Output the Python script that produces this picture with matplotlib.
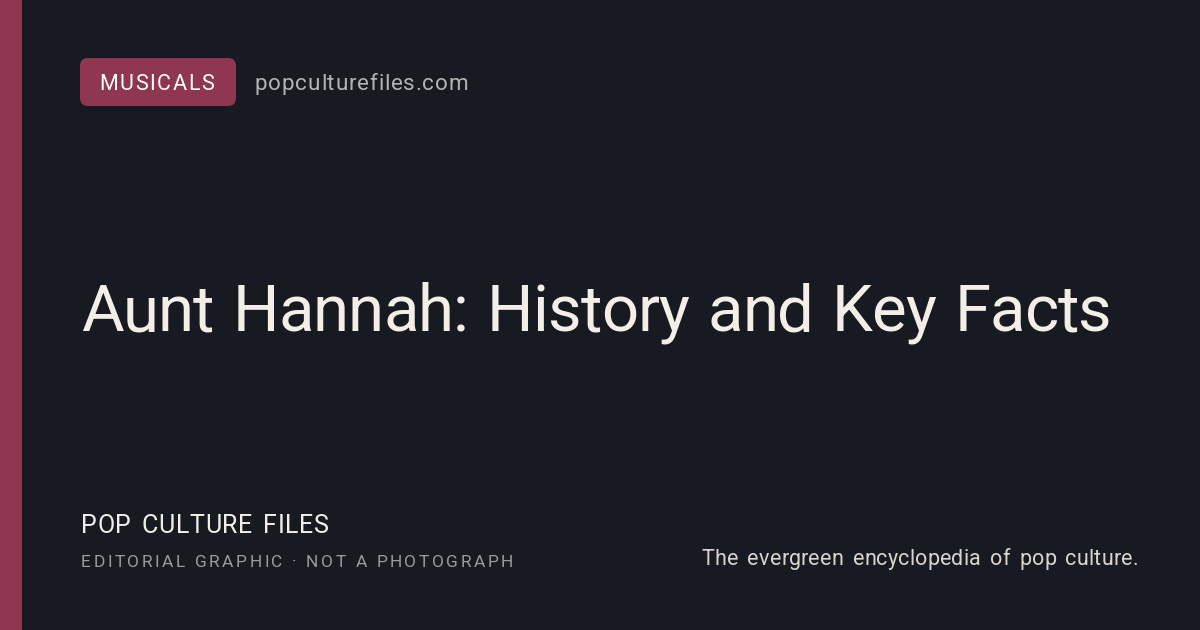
import matplotlib
matplotlib.use("Agg")
import matplotlib.pyplot as plt
from matplotlib.patches import Rectangle, FancyBboxPatch

# card content
category = "MUSICALS"
site = "popculturefiles.com"
title = "Aunt Hannah: History and Key Facts"
brand = "POP CULTURE FILES"
note = "EDITORIAL GRAPHIC \u00b7 NOT A PHOTOGRAPH"
tagline = "The evergreen encyclopedia of pop culture."

bg = "#181a21"
accent = "#8f3650"
cream = "#f3efe8"

plt.rcParams["font.family"] = ["Roboto", "DejaVu Sans"]

fig = plt.figure(figsize=(12, 6.3), dpi=100)
fig.patch.set_facecolor(bg)
ax = fig.add_axes([0, 0, 1, 1])
ax.set_xlim(0, 1200)
ax.set_ylim(630, 0)
ax.axis("off")

fig.canvas.draw()
rend = fig.canvas.get_renderer()


def width_px(t):
    bb = t.get_window_extent(renderer=rend)
    return bb.x1 - bb.x0


def tracked(x0, x1, y, s, size, space_em=0.26, **kw):
    # lay the string out glyph by glyph, spreading spare room so it spans x0..x1
    space = space_em * size * 100 / 72
    glyphs, widths = [], []
    for ch in s:
        t = ax.text(0, y, ch, fontsize=size, ha="left", va="baseline", **kw)
        glyphs.append(t)
        widths.append(space if ch == " " else width_px(t))
    gap = (x1 - x0 - sum(widths)) / (len(s) - 1)
    x = x0
    for t, w in zip(glyphs, widths):
        t.set_x(x)
        x += w + gap


# left accent strip
ax.add_patch(Rectangle((0, 0), 22, 630, color=accent, lw=0))

# category tag
ax.add_patch(FancyBboxPatch((80, 58), 156, 48, boxstyle="round,pad=0,rounding_size=8",
                            fc=accent, ec="none"))
tracked(99, 214, 90, category, 15.5, color="white")
tracked(255, 468, 90, site, 16.2, color="#b3b3b3")

# headline
tracked(81, 1112, 331, title, 47, space_em=0.3, color=cream)

# footer
tracked(81, 329, 533, brand, 18, space_em=0.36, color=cream)
tracked(81, 513, 567, note, 12.5, color="#9b9b9b")
tracked(702, 1138, 565, tagline, 15.5, space_em=0.4, color="#d9d5ce")

fig.savefig("out.png", dpi=100, facecolor=bg)
